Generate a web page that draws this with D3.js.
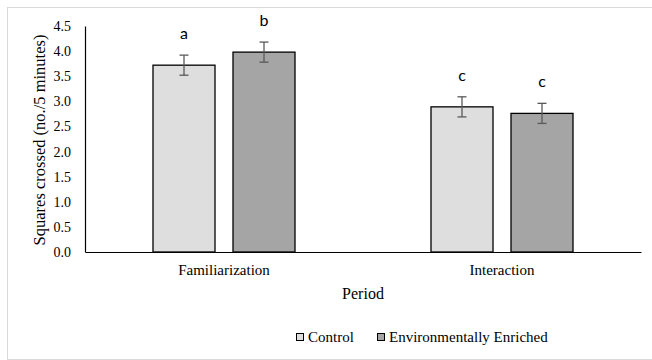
<!DOCTYPE html>
<html>
<head>
<meta charset="utf-8">
<script src="https://cdn.jsdelivr.net/npm/d3@7/dist/d3.min.js"></script>
<style>
  html, body { margin: 0; padding: 0; background: #fff; }
  svg { display: block; }
</style>
</head>
<body>
<svg id="chart" width="652" height="360"></svg>
<script>
const categories = ["Familiarization", "Interaction"];
const seriesNames = ["Control", "Environmentally Enriched"];
const controlValues = [3.72, 2.89];
const enrichedValues = [3.98, 2.76];
const controlErrors = [0.20, 0.20];
const enrichedErrors = [0.20, 0.20];
const controlLetters = ["a", "c"];
const enrichedLetters = ["b", "c"];
const yTicks = [0, 0.5, 1.0, 1.5, 2.0, 2.5, 3.0, 3.5, 4.0, 4.5];

const colors = { "Control": "#dedede", "Environmentally Enriched": "#a5a5a5" };

const data = categories.map((c, i) => ({
  category: c,
  bars: [
    { series: seriesNames[0], value: controlValues[i], err: controlErrors[i], letter: controlLetters[i] },
    { series: seriesNames[1], value: enrichedValues[i], err: enrichedErrors[i], letter: enrichedLetters[i] }
  ]
}));

const svg = d3.select("#chart");
const margin = { left: 85, right: 11, top: 26, bottom: 108 };
const W = 652, H = 360;
const plotW = W - margin.left - margin.right;
const plotH = H - margin.top - margin.bottom;

// outer frame
svg.append("rect")
  .attr("x", 7.5).attr("y", 7.5)
  .attr("width", W - 7).attr("height", H - 8)
  .attr("fill", "none").attr("stroke", "#d9d9d9").attr("stroke-width", 1);

const g = svg.append("g").attr("transform", `translate(${margin.left},${margin.top})`);

const x0 = d3.scaleBand().domain(categories).range([0, plotW]).padding(0);
const x1 = d3.scaleBand().domain(seriesNames).range([-71, 71]).paddingInner(0.225).paddingOuter(0);
const y = d3.scaleLinear().domain([0, 4.5]).range([plotH, 0]);

// y axis
const yAxis = g.append("g")
  .call(d3.axisLeft(y).tickValues(yTicks).tickFormat(d3.format(".1f")).tickSize(0).tickPadding(14));
yAxis.select(".domain").attr("stroke", "#000").attr("stroke-width", 1.2);
yAxis.selectAll("text")
  .attr("font-family", "'Liberation Serif', 'Times New Roman', serif")
  .attr("font-size", 14).attr("fill", "#000");

// bars
const groups = g.selectAll(".cat").data(data).join("g")
  .attr("class", "cat")
  .attr("transform", d => `translate(${x0(d.category) + x0.bandwidth() / 2},0)`);

groups.selectAll("rect").data(d => d.bars).join("rect")
  .attr("x", d => x1(d.series))
  .attr("y", d => y(d.value))
  .attr("width", x1.bandwidth())
  .attr("height", d => plotH - y(d.value))
  .attr("fill", d => colors[d.series])
  .attr("stroke", "#000").attr("stroke-width", 1.3);

// error bars
const eb = groups.selectAll(".err").data(d => d.bars).join("g").attr("class", "err")
  .attr("transform", d => `translate(${x1(d.series) + x1.bandwidth() / 2},0)`);
eb.append("line")
  .attr("x1", 0).attr("x2", 0)
  .attr("y1", d => y(d.value + d.err)).attr("y2", d => y(d.value - d.err))
  .attr("stroke", "#595959").attr("stroke-width", 1.3);
eb.append("line")
  .attr("x1", -4.5).attr("x2", 4.5)
  .attr("y1", d => y(d.value + d.err)).attr("y2", d => y(d.value + d.err))
  .attr("stroke", "#595959").attr("stroke-width", 1.3);
eb.append("line")
  .attr("x1", -4.5).attr("x2", 4.5)
  .attr("y1", d => y(d.value - d.err)).attr("y2", d => y(d.value - d.err))
  .attr("stroke", "#595959").attr("stroke-width", 1.3);

// significance letters
groups.selectAll(".letter").data(d => d.bars).join("text")
  .attr("class", "letter")
  .attr("x", d => x1(d.series) + x1.bandwidth() / 2)
  .attr("y", d => y(d.value + d.err) - 16)
  .attr("text-anchor", "middle")
  .attr("font-family", "Lato, 'Open Sans', sans-serif")
  .attr("font-size", 16).attr("fill", "#000")
  .text(d => d.letter);

// x axis
const xAxis = g.append("g").attr("transform", `translate(0,${plotH})`)
  .call(d3.axisBottom(x0).tickSize(0).tickPadding(12).tickSizeOuter(0));
xAxis.select(".domain").attr("stroke", "#000").attr("stroke-width", 1.2);
xAxis.selectAll("text")
  .attr("font-family", "'Liberation Serif', 'Times New Roman', serif")
  .attr("font-size", 15).attr("fill", "#000");

// axis titles
svg.append("text")
  .attr("transform", `translate(45,${margin.top + plotH / 2 + 1}) rotate(-90)`)
  .attr("text-anchor", "middle")
  .attr("font-family", "'Liberation Serif', 'Times New Roman', serif")
  .attr("font-size", 16.5).attr("fill", "#000")
  .text("Squares crossed (no./5 minutes)");

svg.append("text")
  .attr("x", margin.left + plotW / 2).attr("y", 299)
  .attr("text-anchor", "middle")
  .attr("font-family", "'Liberation Serif', 'Times New Roman', serif")
  .attr("font-size", 16).attr("fill", "#000")
  .text("Period");

// legend
const legendX = [296, 377];
const legend = svg.selectAll(".legend").data(seriesNames).join("g")
  .attr("class", "legend")
  .attr("transform", (d, i) => `translate(${legendX[i]},337)`);
legend.append("rect")
  .attr("x", 0.5).attr("y", -3.5).attr("width", 7).attr("height", 7)
  .attr("fill", d => colors[d]).attr("stroke", "#000").attr("stroke-width", 1);
legend.append("text")
  .attr("x", 12).attr("y", 5)
  .attr("font-family", "'Liberation Serif', 'Times New Roman', serif")
  .attr("font-size", 15).attr("fill", "#000")
  .text(d => d);
</script>
</body>
</html>
